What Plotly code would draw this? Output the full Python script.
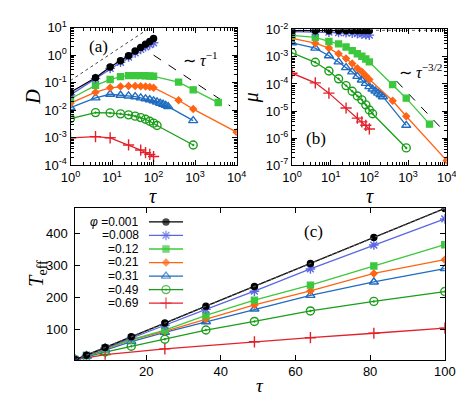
import plotly.graph_objects as go

W, H = 464, 398

# ---------------- data ----------------
labels = ["=0.001", "=0.008", "=0.12", "=0.21", "=0.31", "=0.49", "=0.69"]

# tau values used in panel (c)
tau_c = [1, 4, 9, 16, 25, 36, 49, 64, 81, 100]

# phi = 0.001
tau_001 = [1, 4, 9, 16, 25, 36, 49, 64, 81, 100]
D_001 = [0.045, 0.15, 0.37, 0.62, 0.95, 1.4, 1.9, 2.5, 3.1, 4.0]
mu_001 = [0.0092, 0.0092, 0.0092, 0.0093, 0.0093, 0.0093, 0.0093, 0.0093, 0.0094, 0.0094]
T_001 = [4.8, 19, 43, 77, 120, 173, 235, 307, 389, 480]

# phi = 0.008
tau_008 = [1, 4, 9, 16, 25, 36, 49, 64, 81, 100]
D_008 = [0.036, 0.14, 0.33, 0.55, 0.85, 1.2, 1.6, 2.0, 2.4, 2.8]
mu_008 = [0.0085, 0.0083, 0.0081, 0.0079, 0.0077, 0.0075, 0.0072, 0.0069, 0.0066, 0.0063]
T_008 = [4.7, 18, 42, 73, 113, 163, 220, 290, 365, 447]

# phi = 0.12
tau_12 = [1, 4, 9, 16, 25, 36, 49, 64, 81, 100, 400, 900, 3600]
D_12 = [0.026, 0.08, 0.13, 0.165, 0.18, 0.18, 0.18, 0.178, 0.175, 0.17, 0.105, 0.055, 0.019]
mu_12 = [0.0062, 0.0052, 0.0037, 0.003, 0.0023, 0.0017, 0.0013, 0.00105, 0.00083, 0.00065,
         9.5e-5, 3.0e-5, 3.3e-6]
T_12 = [4.6, 18, 40, 68, 98, 144, 192, 239, 299, 366]

# phi = 0.21
tau_21 = [1, 4, 9, 16, 25, 36, 49, 64, 81, 100, 400, 900, 10000]
D_21 = [0.018, 0.045, 0.065, 0.072, 0.075, 0.075, 0.074, 0.072, 0.07, 0.066, 0.023, 0.011, 0.0016]
mu_21 = [0.0048, 0.0032, 0.0021, 0.0013, 0.00087, 0.00057, 0.00038, 0.00028, 0.0002, 0.000145,
         2.4e-5, 6.5e-6, 1.5e-7]
T_21 = [4.6, 17, 38, 67, 94, 133, 177, 221, 276, 319]

# phi = 0.31
tau_31 = [1, 4, 9, 16, 25, 36, 49, 64, 81, 100, 121, 144, 169, 196, 225, 900]
D_31 = [0.0125, 0.028, 0.038, 0.035, 0.033, 0.031, 0.028, 0.026, 0.024, 0.022, 0.02, 0.018,
        0.0165, 0.015, 0.0135, 0.0042]
mu_31 = [0.0033, 0.0021, 0.0011, 6.5e-4, 4.0e-4, 2.8e-4, 1.9e-4, 1.4e-4, 1.05e-4, 8.0e-5,
         6.5e-5, 5.5e-5, 4.6e-5, 4.0e-5, 3.4e-5, 3.0e-6]
T_31 = [4.5, 16, 36, 62, 91, 124, 164, 207, 249, 291]

# phi = 0.49
tau_49 = [1, 4, 9, 16, 25, 36, 49, 64, 81, 100, 121, 900]
D_49 = [0.005, 0.0082, 0.008, 0.0074, 0.0068, 0.0061, 0.0054, 0.0047, 0.004, 0.0034, 0.0028, 0.00055]
mu_49 = [0.0014, 6.3e-4, 3.0e-4, 1.55e-4, 8.7e-5, 5.4e-5, 3.6e-5, 2.6e-5, 1.7e-5, 1.1e-5, 8.0e-6, 4.4e-7]
T_49 = [4.5, 14, 29, 47, 69, 98, 125, 158, 188, 219]

# phi = 0.69
tau_69 = [1, 4, 9, 25, 49, 64, 81, 100]
D_69 = [0.001, 0.0011, 0.001, 5.5e-4, 3.6e-4, 2.9e-4, 2.5e-4, 2.1e-4]
mu_69 = [2.5e-4, 1.1e-4, 4.6e-5, 1.3e-5, 5.5e-6, 4.0e-6, 3.0e-6, 2.2e-6]
T_69 = [4.5, 11, 21, 39, 61, 74, 88, 104]

# guide lines
guide_a_tau, guide_a_D = [1, 100], [0.12, 12]          # ~ tau
slope_a_tau, slope_a_D = [100, 7000], [1.0, 0.0143]    # ~ tau^-1
flat_b_tau, flat_b_mu = [1, 10000], [0.0096, 0.0096]
slope_b_tau, slope_b_mu = [500, 9000], [1.3e-4, 1.7e-6]  # ~ tau^-3/2
guide_c_tau, guide_c_T = [1, 100], [4.8, 480]

# ---------------- styles ----------------
series = [
    dict(tau=tau_001, D=D_001, mu=mu_001, tc=tau_c, T=T_001, color="#000000", symbol="circle", size=6),
    dict(tau=tau_008, D=D_008, mu=mu_008, tc=tau_c, T=T_008, color="#5a68e0", symbol="asterisk-open", size=8),
    dict(tau=tau_12, D=D_12, mu=mu_12, tc=tau_c, T=T_12, color="#3cc83c", symbol="square", size=6),
    dict(tau=tau_21, D=D_21, mu=mu_21, tc=tau_c, T=T_21, color="#ff6414", symbol="diamond", size=5),
    dict(tau=tau_31, D=D_31, mu=mu_31, tc=tau_c, T=T_31, color="#1f6cc0", symbol="triangle-up-open", size=8),
    dict(tau=tau_49, D=D_49, mu=mu_49, tc=tau_c, T=T_49, color="#1a9e1a", symbol="circle-open-dot", size=8),
    dict(tau=tau_69, D=D_69, mu=mu_69, tc=tau_69, T=T_69, color="#e4202a", symbol="cross-thin-open", size=8),
]

fig = go.Figure()


def add(x, y, s, xa, ya):
    fig.add_trace(go.Scatter(
        x=x, y=y, mode="lines+markers", xaxis=xa, yaxis=ya, showlegend=False,
        line=dict(color=s["color"], width=1.3),
        marker=dict(symbol=s["symbol"], size=s["size"], color=s["color"],
                    line=dict(color=s["color"], width=1.4)),
    ))


def guide(x, y, xa, ya, dash, color="black", width=1):
    fig.add_trace(go.Scatter(x=x, y=y, mode="lines", xaxis=xa, yaxis=ya, showlegend=False,
                             line=dict(color=color, width=width, dash=dash)))


guide(guide_a_tau, guide_a_D, "x", "y", "dot", "#333333", 0.9)
guide(slope_a_tau, slope_a_D, "x", "y", "dash")
guide(flat_b_tau, flat_b_mu, "x2", "y2", "dot", "#333333", 0.9)
guide(slope_b_tau, slope_b_mu, "x2", "y2", "dash")

for s in reversed(series):
    add(s["tau"], s["D"], s, "x", "y")
    add(s["tau"], s["mu"], s, "x2", "y2")
    add(s["tc"], s["T"], s, "x3", "y3")

guide(guide_c_tau, guide_c_T, "x3", "y3", "dot", "#555555", 1.2)

# legend samples for panel (c), one row per series
for i, s in enumerate(series):
    fig.add_trace(go.Scatter(
        x=[0, 0.5, 1], y=[i, i, i], mode="lines+markers", xaxis="x4", yaxis="y4",
        showlegend=False, hoverinfo="skip",
        line=dict(color=s["color"], width=1.3),
        marker=dict(symbol=s["symbol"], size=[0, s["size"], 0], color=s["color"],
                    line=dict(color=s["color"], width=1.4)),
    ))

SANS = "Liberation Sans, Arial, sans-serif"
SERIF = "Liberation Serif, Times New Roman, serif"
TICKFONT = dict(family=SANS, size=13, color="black")


def px_x(a, b):
    return [a / W, b / W]


def px_y(top, bottom):
    return [1 - bottom / H, 1 - top / H]


common = dict(showline=True, linecolor="black", linewidth=1, mirror="allticks",
              ticks="inside", ticklen=5, tickcolor="black", showgrid=False,
              zeroline=False, tickfont=TICKFONT)


def log_minor(lo, hi):
    vals = [m * 10.0 ** k for k in range(lo, hi) for m in range(2, 10)]
    return dict(tickmode="array", tickvals=vals, ticks="inside", ticklen=3,
                tickcolor="black", showgrid=False)


decades_x = [1, 10, 100, 1000, 10000]
decades_x_txt = ["10<sup>%d</sup>" % k for k in range(5)]

fig.update_layout(
    width=W, height=H, margin=dict(l=0, r=0, t=0, b=0),
    paper_bgcolor="white", plot_bgcolor="white",
    xaxis=dict(domain=px_x(55, 229), type="log", range=[0, 4],
               tickvals=decades_x, ticktext=decades_x_txt, minor=log_minor(0, 4), **common),
    yaxis=dict(domain=px_y(11, 155), type="log", range=[-4, 1],
               tickvals=[1e-4, 1e-3, 1e-2, 1e-1, 1, 10],
               ticktext=["10<sup>-4</sup>", "10<sup>-3</sup>", "10<sup>-2</sup>",
                         "10<sup>-1</sup>", "10<sup>0</sup>", "10<sup>1</sup>"],
               minor=log_minor(-4, 1), **common),
    xaxis2=dict(domain=px_x(287, 449), type="log", range=[0, 4], anchor="y2",
                tickvals=decades_x, ticktext=decades_x_txt, minor=log_minor(0, 4), **common),
    yaxis2=dict(domain=px_y(13, 155), type="log", range=[-7, -1.99], anchor="x2",
                tickvals=[1e-7, 1e-6, 1e-5, 1e-4, 1e-3, 1e-2],
                ticktext=["10<sup>-7</sup>", "10<sup>-6</sup>", "10<sup>-5</sup>",
                          "10<sup>-4</sup>", "10<sup>-3</sup>", "10<sup>-2</sup>"],
                minor=log_minor(-7, -2), **common),
    xaxis3=dict(domain=px_x(60, 447), range=[1, 100], anchor="y3",
                tickvals=[20, 40, 60, 80, 100], **common),
    yaxis3=dict(domain=px_y(200, 358), range=[4.8, 480], anchor="x3",
                tickvals=[100, 200, 300, 400], ticklabelstandoff=4, **common),
    xaxis4=dict(domain=px_x(137, 173), range=[0, 1], anchor="y4", visible=False),
    yaxis4=dict(domain=px_y(207, 306), range=[6.5, -0.5], anchor="x4", visible=False),
)

ann = []


def label(text, x, y, size=17, angle=0, family=SERIF, xanchor="center"):
    ann.append(dict(text=text, x=x / W, y=1 - y / H, xref="paper", yref="paper",
                    xanchor=xanchor, yanchor="middle", showarrow=False, textangle=angle,
                    font=dict(family=family, size=size, color="black")))


label("<i>D</i>", 16, 83, size=20, angle=-90)
label("<i>μ</i>", 244, 84, size=20, angle=-90)
label("<i>T</i><sub>eff</sub>", 20, 268, size=20, angle=-90)
label("<i>τ</i>", 141, 187, size=20)
label("<i>τ</i>", 369, 187, size=20)
label("<i>τ</i>", 253, 385, size=19)
label("(a)", 84, 31)
label("(b)", 312, 127)
label("(c)", 310, 224)
label("∼ <i>τ</i><sup>−1</sup>", 191, 44, size=16)
label("∼ <i>τ</i><sup>−3/2</sup>", 422, 56, size=16)

# legend texts, right aligned next to the samples
for i, t in enumerate(labels):
    txt = ("<i>φ</i> " + t) if i == 0 else t
    label(txt, 129, 214 + i * 14.15, size=12, family=SANS, xanchor="right")

fig.update_layout(annotations=ann)

fig.write_html("out.html")
